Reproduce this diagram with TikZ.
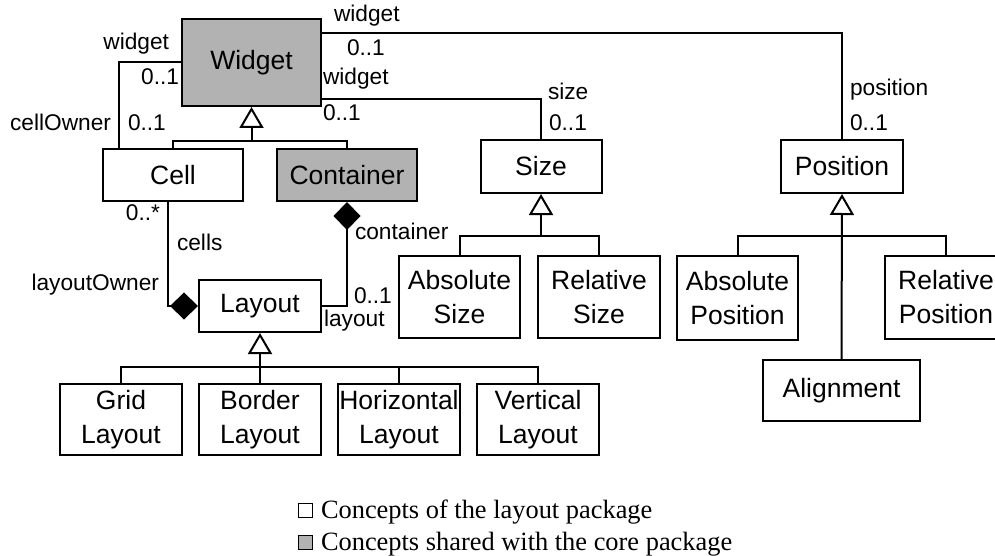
\documentclass[tikz,border=0pt]{standalone}
\usepackage{fontspec}
\setmainfont{Liberation Serif}
\setsansfont{Liberation Sans}
\usetikzlibrary{arrows.meta}
\definecolor{coregray}{gray}{0.7}

\begin{document}
\begin{tikzpicture}[x=0.5pt,y=-0.5pt,line width=1pt,
	class/.style={draw, fill=white, align=center, inner sep=0pt,
		font=\sffamily\fontsize{13.25}{17}\selectfont,
		minimum width=61pt, minimum height=26pt},
	core/.style={class, fill=coregray},
	role/.style={font=\sffamily\fontsize{11.35}{13}\selectfont, inner sep=0pt},
	legend/.style={font=\fontsize{13.2}{16}\selectfont, inner sep=0pt, anchor=base west},
	gen/.style={-{Triangle[open, length=10.5pt, width=12pt]}},
	comp/.style={-{Diamond[length=14pt, width=13.5pt]}}]
	\useasboundingbox (0,0) rectangle (995,556);
	%\draw [help lines] (0,0) grid (995,556);
	% classes
	\node [core, minimum width=69.5pt, minimum height=43.5pt] (widget) at (251.5,62.5) {Widget};
	\node [class, minimum width=70pt] (cell) at (173,175) {Cell};
	\node [core, minimum width=70pt] (container) at (347,175) {Container};
	\node [class] (layout) at (260,306) {Layout};
	\node [class, minimum height=35.5pt] (grid) at (121,419.5) {Grid\\Layout};
	\node [class, minimum height=35.5pt] (border) at (260,419.5) {Border\\Layout};
	\node [class, minimum height=35.5pt] (horizontal) at (399,419.5) {Horizontal\\Layout};
	\node [class, minimum height=35.5pt] (vertical) at (538,419.5) {Vertical\\Layout};
	\node [class, minimum width=60.5pt, minimum height=26.5pt] (size) at (541,166.5) {Size};
	\node [class, minimum width=60.5pt, minimum height=41pt] (abssize) at (459.5,297) {Absolute\\Size};
	\node [class, minimum height=41pt] (relsize) at (599,297) {Relative\\Size};
	\node [class, minimum height=26.5pt] (position) at (842,166.5) {Position};
	\node [class, minimum width=60.5pt, minimum height=42pt] (abspos) at (737.5,298) {Absolute\\Position};
	\node [class, minimum height=41.5pt] (relpos) at (946,297.5) {Relative\\Position};
	\node [class, minimum width=78.5pt, minimum height=30.5pt] (alignment) at (841.5,390.5) {Alignment};

	% generalizations
	\coordinate (wjoin) at (251.5,141);
	\draw (cell.north) |- (wjoin) -| (container.north);
	\draw [gen] (wjoin) -- (widget.south);
	\coordinate (sjoin) at (541,236);
	\draw (abssize.north) |- (sjoin) -| (relsize.north);
	\draw [gen] (sjoin) -- (size.south);
	\coordinate (pjoin) at (842,236);
	\draw (abspos.north) |- (pjoin) -| (relpos.north);
	\draw [gen] (alignment.north) -- (position.south);
	\coordinate (ljoin) at (260,367);
	\draw (grid.north) |- (ljoin) -| (vertical.north);
	\draw (horizontal.north) -- (horizontal.north |- ljoin);
	\draw [gen] (border.north) -- (layout.south);

	% associations
	\draw (widget.west) -| ([xshift=-27pt]cell.north);
	\draw ([yshift=-7.5pt]widget.north east) -| (position.north);
	\draw ([yshift=4pt]widget.south east) -| (size.north);
	\draw [comp] ([xshift=-2.5pt]cell.south) |- (layout.west);
	\draw [comp] (layout.east) -| (container.south);

	% roles and multiplicities
	\node [role, anchor=base east] (rwcell) at (170,50) {widget};
	\node [role, anchor=base east] (mwcell) at (180,85) {0..1};
	\node [role, anchor=base east] (rcellowner) at (112,130) {cellOwner};
	\node [role, anchor=base west] (mcellowner) at (127,131) {0..1};
	\node [role, anchor=base west] (rwpos) at (333,22) {widget};
	\node [role, anchor=base west] (mwpos) at (346,56) {0..1};
	\node [role, anchor=base west] (rwsize) at (322,85) {widget};
	\node [role, anchor=base west] (mwsize) at (322,120) {0..1};
	\node [role, anchor=base west] (rsize) at (547,100) {size};
	\node [role, anchor=base west] (msize) at (548,131) {0..1};
	\node [role, anchor=base west] (rpos) at (849,96) {position};
	\node [role, anchor=base west] (mpos) at (849,131) {0..1};
	\node [role, anchor=base east] (mcells) at (161,220) {0..*};
	\node [role, anchor=base west] (rcells) at (176,250) {cells};
	\node [role, anchor=base east] (rlayoutowner) at (160,290) {layoutOwner};
	\node [role, anchor=base west] (rcontainer) at (354,239) {container};
	\node [role, anchor=base west] (mlayout) at (353,303) {0..1};
	\node [role, anchor=base west] (rlayout) at (323,326) {layout};

	% legend
	\node [draw, line width=0.5pt, fill=white, minimum size=7pt, inner sep=0pt] (keylayout) at (305.5,510.5) {};
	\node [draw, line width=0.5pt, fill=coregray, minimum size=7pt, inner sep=0pt] (keycore) at (305.5,542.5) {};
	\node [legend] (txtlayout) at (320,518) {Concepts of the layout package};
	\node [legend] (txtcore) at (320,550) {Concepts shared with the core package};
\end{tikzpicture}
\end{document}
